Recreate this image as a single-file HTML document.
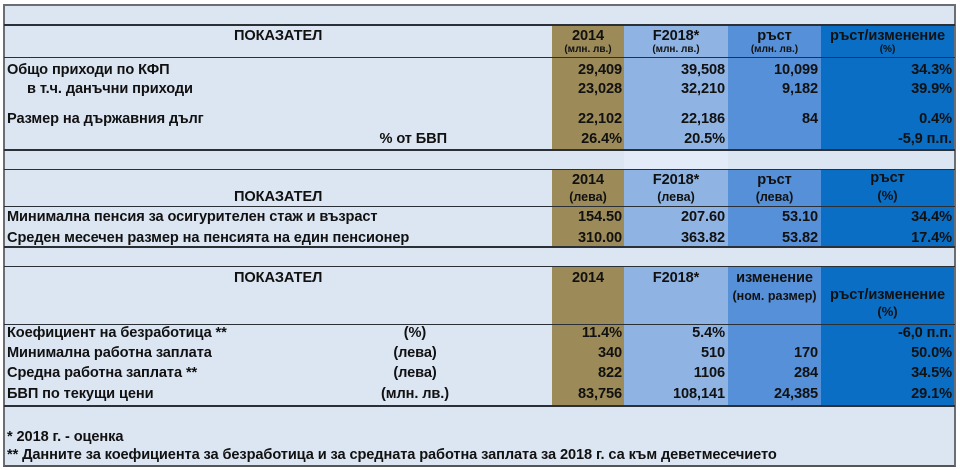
<!DOCTYPE html>
<html><head><meta charset="utf-8"><style>
*{margin:0;padding:0;box-sizing:border-box}
body{width:960px;height:470px;background:#fff;position:relative;overflow:hidden;font-family:"Liberation Sans",Arial,sans-serif;font-weight:bold;color:#111}
.a{position:absolute}
.t{position:absolute;font-size:14.6px;line-height:16px;white-space:nowrap;letter-spacing:-0.1px}
.s{position:absolute;font-size:10px;line-height:11px;white-space:nowrap;font-weight:bold}
.r{text-align:right}
.c{text-align:center}
.hl{position:absolute;left:4px;width:951px;height:2px;background:#2b2f36}
</style></head><body>
<div class="a" style="left:3px;top:4px;width:953px;height:463px;background:#dce6f3;border:2px solid #6b6f74;border-bottom-color:#555;"></div>
<div class="a" style="left:552px;top:25px;width:72px;height:125px;background:#9c8b58"></div>
<div class="a" style="left:624px;top:25px;width:104px;height:125px;background:#8fb4e3"></div>
<div class="a" style="left:728px;top:25px;width:93px;height:125px;background:#5590d8"></div>
<div class="a" style="left:821px;top:25px;width:133px;height:125px;background:#0a6ec4"></div>

<div class="a" style="left:552px;top:170px;width:72px;height:77px;background:#9c8b58"></div>
<div class="a" style="left:624px;top:170px;width:104px;height:77px;background:#8fb4e3"></div>
<div class="a" style="left:728px;top:170px;width:93px;height:77px;background:#5590d8"></div>
<div class="a" style="left:821px;top:170px;width:133px;height:77px;background:#0a6ec4"></div>

<div class="a" style="left:552px;top:267px;width:72px;height:139px;background:#9c8b58"></div>
<div class="a" style="left:624px;top:267px;width:104px;height:139px;background:#8fb4e3"></div>
<div class="a" style="left:728px;top:267px;width:93px;height:139px;background:#5590d8"></div>
<div class="a" style="left:821px;top:267px;width:133px;height:139px;background:#0a6ec4"></div>

<div class="a" style="left:624px;top:150px;width:104px;height:20px;background:#e2ebf7"></div>

<div class="hl" style="top:24px"></div>
<div class="hl" style="top:57px;height:1px"></div>
<div class="hl" style="top:149px"></div>
<div class="hl" style="top:169px;height:1px"></div>
<div class="hl" style="top:206px;height:1px"></div>
<div class="hl" style="top:246px"></div>
<div class="hl" style="top:266px;height:1px"></div>
<div class="hl" style="top:324px;height:1px"></div>
<div class="hl" style="top:405px"></div>

<div class="t" style="left:234px;top:28px">ПОКАЗАТЕЛ</div>
<div class="t c" style="left:552px;width:72px;top:28px">2014</div>
<div class="s c" style="left:552px;width:72px;top:44px">(млн. лв.)</div>
<div class="t c" style="left:624px;width:104px;top:28px">F2018*</div>
<div class="s c" style="left:624px;width:104px;top:44px">(млн. лв.)</div>
<div class="t c" style="left:728px;width:93px;top:28px">ръст</div>
<div class="s c" style="left:728px;width:93px;top:44px">(млн. лв.)</div>
<div class="t c" style="left:821px;width:133px;top:28px">ръст/изменение</div>
<div class="s c" style="left:821px;width:133px;top:44px">(%)</div>

<div class="t" style="left:7px;top:62px">Общо приходи по КФП</div>
<div class="t" style="left:27px;top:81px">в т.ч. данъчни приходи</div>
<div class="t" style="left:7px;top:111px">Размер на държавния дълг</div>
<div class="t r" style="left:300px;width:147px;top:131px">% от БВП</div>

<div class="t r" style="left:548px;width:74px;top:62px">29,409</div>
<div class="t r" style="left:548px;width:74px;top:81px">23,028</div>
<div class="t r" style="left:548px;width:74px;top:111px">22,102</div>
<div class="t r" style="left:548px;width:74px;top:131px">26.4%</div>
<div class="t r" style="left:624px;width:101px;top:62px">39,508</div>
<div class="t r" style="left:624px;width:101px;top:81px">32,210</div>
<div class="t r" style="left:624px;width:101px;top:111px">22,186</div>
<div class="t r" style="left:624px;width:101px;top:131px">20.5%</div>
<div class="t r" style="left:728px;width:90px;top:62px">10,099</div>
<div class="t r" style="left:728px;width:90px;top:81px">9,182</div>
<div class="t r" style="left:728px;width:90px;top:111px">84</div>
<div class="t r" style="left:821px;width:131px;top:62px">34.3%</div>
<div class="t r" style="left:821px;width:131px;top:81px">39.9%</div>
<div class="t r" style="left:821px;width:131px;top:111px">0.4%</div>
<div class="t r" style="left:821px;width:131px;top:131px">-5,9 п.п.</div>

<div class="t" style="left:234px;top:189px">ПОКАЗАТЕЛ</div>
<div class="t c" style="left:552px;width:72px;top:172px">2014</div>
<div class="s c" style="left:552px;width:72px;top:190px;font-size:12.5px;line-height:14px">(лева)</div>
<div class="t c" style="left:624px;width:104px;top:172px">F2018*</div>
<div class="s c" style="left:624px;width:104px;top:190px;font-size:12.5px;line-height:14px">(лева)</div>
<div class="t c" style="left:728px;width:93px;top:172px">ръст</div>
<div class="s c" style="left:728px;width:93px;top:190px;font-size:12.5px;line-height:14px">(лева)</div>
<div class="t c" style="left:821px;width:133px;top:170px">ръст</div>
<div class="s c" style="left:821px;width:133px;top:189px;font-size:13px;line-height:14px">(%)</div>

<div class="t" style="left:7px;top:209px">Минимална пенсия за осигурителен стаж и възраст</div>
<div class="t" style="left:7px;top:230px">Среден месечен размер на пенсията на един пенсионер</div>
<div class="t r" style="left:548px;width:74px;top:209px">154.50</div>
<div class="t r" style="left:548px;width:74px;top:230px">310.00</div>
<div class="t r" style="left:624px;width:101px;top:209px">207.60</div>
<div class="t r" style="left:624px;width:101px;top:230px">363.82</div>
<div class="t r" style="left:728px;width:90px;top:209px">53.10</div>
<div class="t r" style="left:728px;width:90px;top:230px">53.82</div>
<div class="t r" style="left:821px;width:131px;top:209px">34.4%</div>
<div class="t r" style="left:821px;width:131px;top:230px">17.4%</div>

<div class="t" style="left:234px;top:270px">ПОКАЗАТЕЛ</div>
<div class="t c" style="left:552px;width:72px;top:270px">2014</div>
<div class="t c" style="left:624px;width:104px;top:270px">F2018*</div>
<div class="t c" style="left:728px;width:93px;top:270px">изменение</div>
<div class="s c" style="left:726px;width:97px;top:289px;font-size:12.5px;line-height:14px">(ном. размер)</div>
<div class="t c" style="left:821px;width:133px;top:287px">ръст/изменение</div>
<div class="s c" style="left:821px;width:133px;top:305px;font-size:13px;line-height:14px">(%)</div>

<div class="t" style="left:7px;top:325px">Коефициент на безработица **</div>
<div class="t" style="left:7px;top:345px">Минимална работна заплата</div>
<div class="t" style="left:7px;top:365px">Средна работна заплата **</div>
<div class="t" style="left:7px;top:386px">БВП по текущи цени</div>
<div class="t c" style="left:375px;width:80px;top:325px">(%)</div>
<div class="t c" style="left:375px;width:80px;top:345px">(лева)</div>
<div class="t c" style="left:375px;width:80px;top:365px">(лева)</div>
<div class="t c" style="left:375px;width:80px;top:386px">(млн. лв.)</div>

<div class="t r" style="left:548px;width:74px;top:325px">11.4%</div>
<div class="t r" style="left:548px;width:74px;top:345px">340</div>
<div class="t r" style="left:548px;width:74px;top:365px">822</div>
<div class="t r" style="left:548px;width:74px;top:386px">83,756</div>
<div class="t r" style="left:624px;width:101px;top:325px">5.4%</div>
<div class="t r" style="left:624px;width:101px;top:345px">510</div>
<div class="t r" style="left:624px;width:101px;top:365px">1106</div>
<div class="t r" style="left:620px;width:105px;top:386px">108,141</div>
<div class="t r" style="left:728px;width:90px;top:345px">170</div>
<div class="t r" style="left:728px;width:90px;top:365px">284</div>
<div class="t r" style="left:728px;width:90px;top:386px">24,385</div>
<div class="t r" style="left:821px;width:131px;top:325px">-6,0 п.п.</div>
<div class="t r" style="left:821px;width:131px;top:345px">50.0%</div>
<div class="t r" style="left:821px;width:131px;top:365px">34.5%</div>
<div class="t r" style="left:821px;width:131px;top:386px">29.1%</div>

<div class="t" style="left:7px;top:429px">* 2018 г. - оценка</div>
<div class="t" style="left:7px;top:447px">** Данните за коефициента за безработица и за средната работна заплата за 2018 г. са към деветмесечието</div>
</body></html>
